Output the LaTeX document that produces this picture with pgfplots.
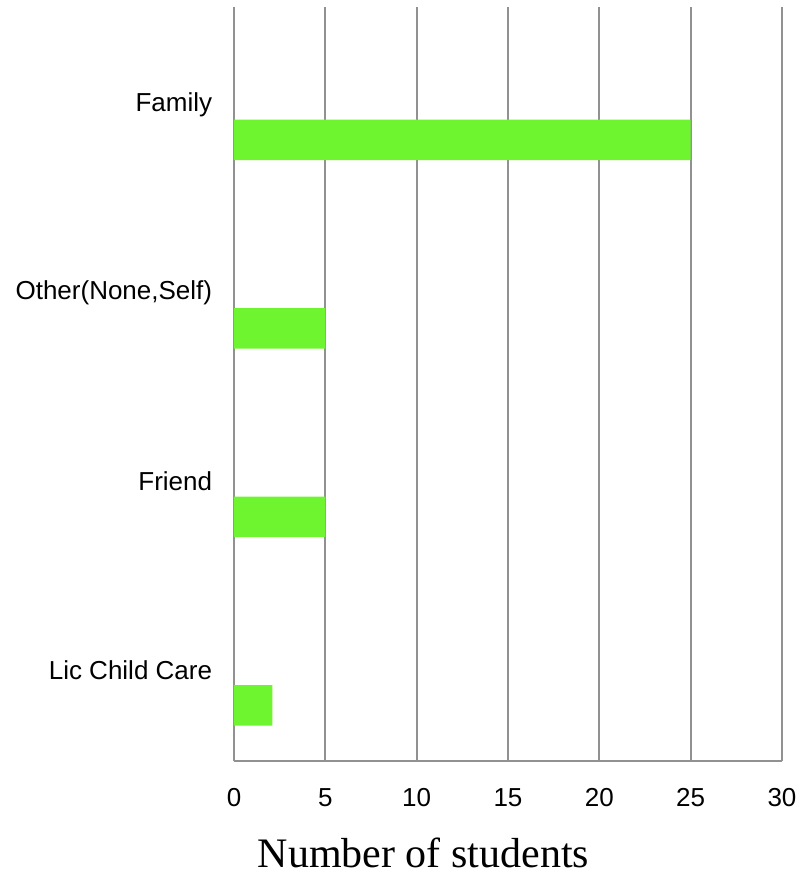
\documentclass[border=0pt]{standalone}
\usepackage{fontspec}
\setmainfont{Liberation Serif}
\newfontfamily\arial{Liberation Sans}
\usepackage{pgfplots}
\pgfplotsset{compat=1.18}
\definecolor{barg}{RGB}{111,245,47}
\definecolor{gridg}{RGB}{145,145,145}
\begin{document}
\begin{tikzpicture}
\useasboundingbox (0,0) rectangle (400pt,437pt);
\begin{axis}[
  at={(117pt,56.5pt)}, anchor=south west,
  scale only axis,
  width=274pt, height=377pt,
  xmin=0, xmax=30, ymin=-0.5, ymax=3.5,
  xtick={0,5,10,15,20,25,30},
  ytick={0,1,2,3},
  yticklabels={Lic Child Care,Friend,{Other(None,Self)},Family},
  axis lines*=left,
  axis line style={draw=gridg, line width=1pt},
  xmajorgrids,
  major grid style={draw=gridg, line width=1pt},
  major tick length=0pt,
  tick style={draw=none},
  /pgf/number format/assume math mode=true,
  ticklabel style={font=\arial\fontsize{13}{15}\selectfont, inner sep=0pt},
  xticklabel style={yshift=-13.5pt},
  yticklabel style={xshift=-10.75pt, yshift=-1.6pt},
  xlabel={Number of students},
  xlabel style={font=\fontsize{21}{24}\selectfont, at={(axis description cs:0.3458,-0.1406)}, anchor=base},
  xbar, bar width=0.215, bar shift=0pt,
]
\addplot[fill=barg, draw=none] coordinates {(25,2.795) (5,1.795) (5,0.795) (2.1,-0.205)};
\end{axis}
\end{tikzpicture}
\end{document}
